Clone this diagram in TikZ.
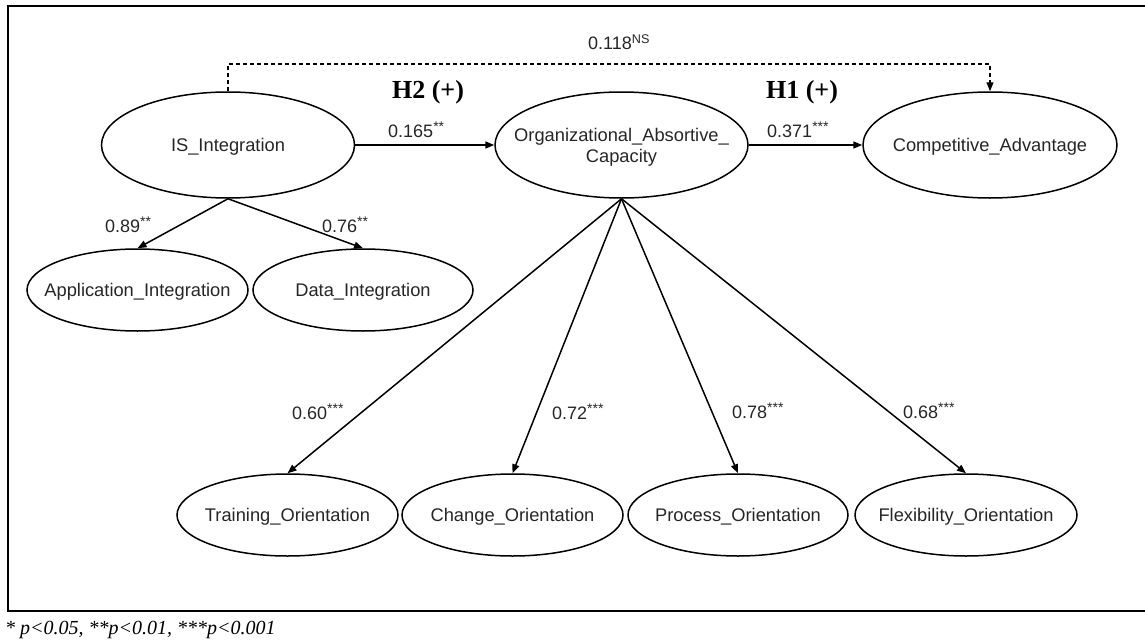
\documentclass[tikz,border=0pt]{standalone}
\usepackage{fontspec}
\setmainfont{Liberation Sans}
\newfontfamily\serifbold{Liberation Serif}
\usetikzlibrary{shapes.geometric,arrows.meta}
\tikzset{
  lat/.style={draw, ellipse, line width=1.5pt, inner sep=0pt, minimum width=#1, minimum height=82pt},
  big/.style={lat=#1, minimum height=106pt},
  path/.style={line width=1.5pt, -{Triangle[length=9pt,width=7pt]}},
  coef/.style={anchor=west, inner sep=0pt, font=\fontsize{18}{20}\selectfont, text=black!85},
  hyp/.style={inner sep=0pt, font=\serifbold\bfseries\fontsize{26}{28}\selectfont},
  lbl/.style={font=\fontsize{18.3}{22}\selectfont, text=black!85}
}
\newcommand{\zt}[1]{\smash{\makebox[0pt]{\raisebox{-6pt}{#1}}}}
\newcommand{\stars}[1]{\textsuperscript{\fontsize{14}{14}\selectfont #1}}
\begin{document}
\begin{tikzpicture}[x=1pt,y=-1pt]
\useasboundingbox (0,0) rectangle (1145,642);
% frame
\draw[line width=2.5pt] (1150,6) -- (8,6) -- (8,611) -- (1150,611);
% latent variables
\node[big=253pt, lbl] (IS) at (228,145) {\zt{IS\_Integration}};
\node[big=253pt, lbl] (OAC) at (621.5,145) {\smash{\makebox[0pt]{\raisebox{-7pt}{\begin{tabular}{@{}c@{}}Organizational\_Absortive\_\\[-1pt]Capacity\end{tabular}}}}};
\node[big=254pt, lbl] (CA) at (990,145) {\zt{Competitive\_Advantage}};
\node[lat=221pt, lbl] (APP) at (137.5,290) {\zt{Application\_Integration}};
\node[lat=220pt, lbl] (DATA) at (363,290) {\zt{Data\_Integration}};
\node[lat=221pt, lbl] (TR) at (287.5,515) {\zt{Training\_Orientation}};
\node[lat=221pt, lbl] (CH) at (512.5,515) {\zt{Change\_Orientation}};
\node[lat=220pt, lbl] (PR) at (738,515) {\zt{Process\_Orientation}};
\node[lat=222pt, lbl] (FL) at (966,515) {\zt{Flexibility\_Orientation}};
% paths
\coordinate (dtop) at (600,64);
\draw[path, line width=1.3pt, dash pattern=on 4pt off 3pt] (IS.north) |- (dtop) -| (CA.north);
\draw[path] (IS) -- (OAC);
\draw[path] (OAC) -- (CA);
\draw[path] (IS.south) -- (APP.north);
\draw[path] (IS.south) -- (DATA.north);
\draw[path] (OAC.south) -- (TR.north);
\draw[path] (OAC.south) -- (CH.north);
\draw[path] (OAC.south) -- (PR.north);
\draw[path] (OAC.south) -- (FL.north);
% labels
\node[coef] (l118) at (588,42) {0.118\textsuperscript{NS}};
\node[hyp] (h2) at (428,92) {H2 (+)};
\node[hyp] (h1) at (802,92) {H1 (+)};
\node[coef] (l165) at (388,130) {0.165\stars{**}};
\node[coef] (l371) at (767,130) {0.371\stars{***}};
\node[coef] (l89) at (105,225) {0.89\stars{**}};
\node[coef] (l76) at (322,225) {0.76\stars{**}};
\node[coef] (l60) at (292,412) {0.60\stars{***}};
\node[coef] (l72) at (552,412) {0.72\stars{***}};
\node[coef] (l78) at (732,411) {0.78\stars{***}};
\node[coef] (l68) at (903,411) {0.68\stars{***}};
\node[anchor=west, inner sep=0pt, font=\serifbold\itshape\fontsize{20}{22}\selectfont] (foot) at (5,630) {* p<0.05, **p<0.01, ***p<0.001};
\end{tikzpicture}
\end{document}
